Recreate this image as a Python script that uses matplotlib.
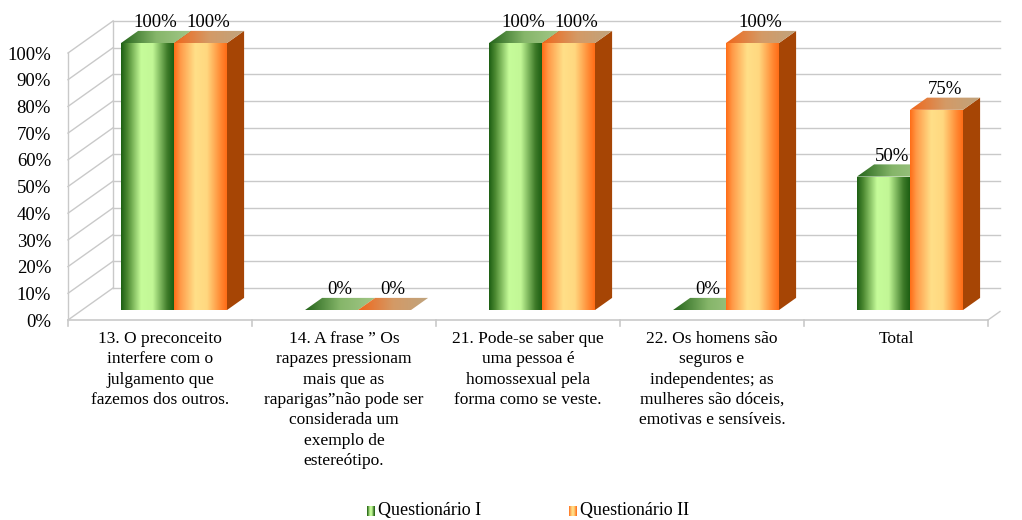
import numpy as np
import matplotlib.pyplot as plt
from matplotlib.colors import LinearSegmentedColormap
from matplotlib.patches import Polygon

plt.rcParams["font.family"] = ["Liberation Serif", "DejaVu Serif"]

categories = [
    "13. O preconceito\ninterfere com o\njulgamento que\nfazemos dos outros.",
    "14. A frase \u201d Os\nrapazes pressionam\nmais que as\nraparigas\u201dnão pode ser\nconsiderada um\nexemplo de\nestereótipo.",
    "21. Pode-se saber que\numa pessoa é\nhomossexual pela\nforma como se veste.",
    "22. Os homens são\nseguros e\nindependentes; as\nmulheres são dóceis,\nemotivas e sensíveis.",
    "Total",
]
series_names = ["Questionário I", "Questionário II"]
q1 = [100, 0, 100, 0, 50]
q2 = [100, 0, 100, 100, 75]
y_ticks = [0, 10, 20, 30, 40, 50, 60, 70, 80, 90, 100]

# fake 3D geometry (data units)
DEPTH_X, DEPTH_Y = 0.245, 12.0
BAR_W = 0.288
F0, F1 = 0.31, 0.69   # bar front / back as fraction of depth
X_RIGHT = 4.565

green_front = LinearSegmentedColormap.from_list(
    "gf", [(0, "#1c5e12"), (0.12, "#4d8a32"), (0.38, "#c6fc9a"),
           (0.6, "#c2f796"), (0.88, "#3d7a28"), (1, "#1c5e12")])
orange_front = LinearSegmentedColormap.from_list(
    "of", [(0, "#ff6c16"), (0.12, "#ff9a48"), (0.4, "#ffdf88"),
           (0.62, "#ffd880"), (0.88, "#ff8a34"), (1, "#ff6c16")])
green_top = LinearSegmentedColormap.from_list("gt", ["#24641a", "#86b66a", "#a3c788"])
orange_top = LinearSegmentedColormap.from_list("ot", ["#f0661a", "#d49a66", "#bfa47e"])
orange_side = "#a64505"

fig = plt.figure(figsize=(10.22, 5.2), dpi=100)
ax = fig.add_axes([0, 0, 1, 1])
ax.axis("off")
XLIM = (-160 / 184, 862 / 184)
YLIM = (-200 / 2.67, 320 / 2.67)

grid_c = "#c9c9c9"
# back wall gridlines and side wall diagonals
for v in y_ticks:
    ax.plot([-0.5 + DEPTH_X, X_RIGHT], [v + DEPTH_Y, v + DEPTH_Y], color=grid_c, lw=1, zorder=1)
    ax.plot([-0.5, -0.5 + DEPTH_X], [v, v + DEPTH_Y], color=grid_c, lw=1, zorder=1)
    ax.text(-0.592, v - 0.8, f"{v}%", ha="right", va="center", fontsize=13.5)
ax.plot([-0.5 + DEPTH_X] * 2, [DEPTH_Y, 100 + DEPTH_Y], color=grid_c, lw=1, zorder=1)
ax.plot([-0.5, -0.5], [0, 100], color=grid_c, lw=1, zorder=1)
# floor front edge with ticks
ax.plot([-0.5, 4.5], [0, 0], color=grid_c, lw=1.2, zorder=1)
for k in range(6):
    ax.plot([k - 0.5, k - 0.5], [0, -2.2], color=grid_c, lw=1.2, zorder=1)
frac = (X_RIGHT - 4.5) / DEPTH_X
ax.plot([4.5, X_RIGHT], [0, DEPTH_Y * frac], color=grid_c, lw=1, zorder=1)


def grad_poly(pts, cmap, z):
    pts = np.array(pts)
    poly = Polygon(pts, closed=True, transform=ax.transData)
    x0, x1 = pts[:, 0].min(), pts[:, 0].max()
    y0, y1 = pts[:, 1].min(), pts[:, 1].max()
    im = ax.imshow(np.linspace(0, 1, 256)[None, :], cmap=cmap, aspect="auto",
                   extent=(x0, x1, y0, y1), zorder=z, interpolation="bilinear")
    im.set_clip_path(poly)


def draw_bar(xl, h, front_cmap, top_cmap, side_c, z):
    fx, fy = F0 * DEPTH_X, F0 * DEPTH_Y
    bx, by = F1 * DEPTH_X, F1 * DEPTH_Y
    xs, ys = xl + fx, fy
    xr = xs + BAR_W
    # side face
    ax.add_patch(Polygon([(xr, ys), (xr + bx - fx, by), (xr + bx - fx, by + h), (xr, ys + h)],
                         closed=True, fc=side_c, ec="none", zorder=z))
    # top face
    grad_poly([(xs, ys + h), (xr, ys + h), (xr + bx - fx, by + h), (xs + bx - fx, by + h)],
              top_cmap, z + 0.1)
    # front face
    if h > 0:
        grad_poly([(xs, ys), (xr, ys), (xr, ys + h), (xs, ys + h)], front_cmap, z + 0.2)


for i in range(len(categories)):
    base = i - BAR_W
    draw_bar(base, q1[i], green_front, green_top, "#2a6a1c", 3 + i)
    draw_bar(base + BAR_W, q2[i], orange_front, orange_top, orange_side, 3.5 + i)
    for j, val in enumerate([q1[i], q2[i]]):
        cx = base + j * BAR_W + BAR_W / 2 + F0 * DEPTH_X + 0.045
        ax.text(cx, val + F1 * DEPTH_Y + 3.0, f"{val}%", ha="center", va="center",
                fontsize=13.5, zorder=20)
    ax.text(i, -4.0, categories[i], ha="center", va="top", fontsize=12.5,
            linespacing=1.37)

ax.set_xlim(*XLIM)
ax.set_ylim(*YLIM)

# legend
for k, (name, cmap, px) in enumerate(zip(series_names, [green_front, orange_front], [367, 569])):
    sw = fig.add_axes([px / 1022, (520 - 516) / 520, 8 / 1022, 10 / 520])
    sw.imshow(np.linspace(0, 1, 64)[None, :], cmap=cmap, aspect="auto")
    sw.axis("off")
    fig.text((px + 11) / 1022, (520 - 511) / 520, name, ha="left", va="center", fontsize=13)

fig.savefig("out.png", dpi=100)
